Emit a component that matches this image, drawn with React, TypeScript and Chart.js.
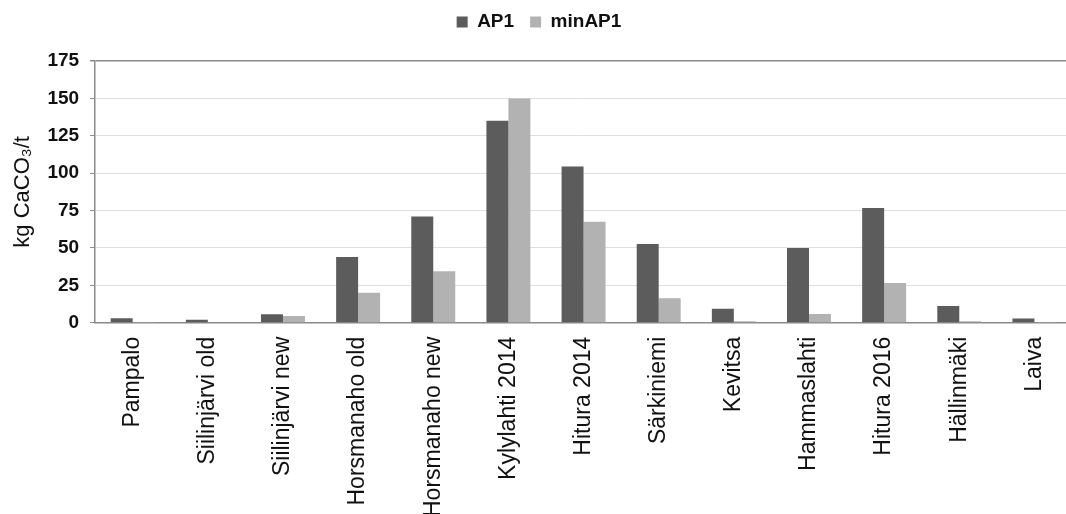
import React, { useEffect, useRef } from "react";
import { Chart, registerables } from "chart.js";

Chart.register(...registerables);

const categories = [
  "Pampalo",
  "Siilinjärvi old",
  "Siilinjärvi new",
  "Horsmanaho old",
  "Horsmanaho new",
  "Kylylahti 2014",
  "Hitura 2014",
  "Särkiniemi",
  "Kevitsa",
  "Hammaslahti",
  "Hitura 2016",
  "Hällinmäki",
  "Laiva",
];

const ap1 = [3, 2, 5.6, 44, 71, 135, 104.5, 52.7, 9.4, 50, 76.7, 11.2, 2.9];
const minAp1 = [0.5, 0.3, 4.5, 20, 34.5, 150, 67.5, 16.4, 1, 5.8, 26.5, 1, 0.5];

const yTicks = [0, 25, 50, 75, 100, 125, 150, 175];

const FONT = "'Liberation Sans', Arial, sans-serif";

export default function App() {
  const ref = useRef<HTMLCanvasElement | null>(null);

  useEffect(() => {
    if (!ref.current) return;
    const legendMargin = {
      id: "legendMargin",
      beforeInit(chart: any) {
        const orig = chart.legend.fit;
        chart.legend.fit = function () {
          orig.bind(chart.legend)();
          this.height += 19.5;
        };
      },
    };
    const chart = new Chart(ref.current, {
      type: "bar",
      data: {
        labels: categories,
        datasets: [
          {
            label: "AP1",
            data: ap1,
            backgroundColor: "#5c5c5c",
            categoryPercentage: 0.585,
            barPercentage: 1,
          },
          {
            label: "minAP1",
            data: minAp1,
            backgroundColor: "#b2b2b2",
            categoryPercentage: 0.585,
            barPercentage: 1,
          },
        ],
      },
      options: {
        responsive: false,
        animation: false,
        layout: { padding: { left: 6, right: 8, top: 6.5, bottom: 0 } },
        plugins: {
          legend: {
            position: "top",
            labels: {
              boxWidth: 11,
              boxHeight: 11,
              padding: 16,
              color: "#111",
              font: { family: FONT, size: 19, weight: "bold" },
            },
          },
          tooltip: { enabled: false },
        },
        scales: {
          x: {
            grid: { display: false, drawTicks: false },
            border: { display: true, color: "#8a8a8a", width: 1.5 },
            ticks: {
              maxRotation: 90,
              minRotation: 90,
              padding: 14,
              color: "#111",
              autoSkip: false,
              font: { family: FONT, size: 23 },
            },
          },
          y: {
            min: 0,
            max: 175,
            afterBuildTicks(scale: any) {
              scale.ticks = yTicks.map((v) => ({ value: v }));
            },
            grid: {
              color: (ctx: any) =>
                ctx.tick && ctx.tick.value === 175 ? "#8a8a8a" : "#dedede",
              lineWidth: (ctx: any) =>
                ctx.tick && ctx.tick.value === 175 ? 1.5 : 1,
              tickColor: "#8a8a8a",
              tickLength: 5,
            },
            border: { display: true, color: "#8a8a8a", width: 1.5 },
            ticks: {
              padding: 11,
              color: "#111",
              font: { family: FONT, size: 19, weight: "bold" },
            },
            title: {
              display: true,
              text: "kg CaCO₃/t",
              color: "#111",
              padding: { top: 4, bottom: 0 },
              font: { family: FONT, size: 22 },
            },
          },
        },
      },
      plugins: [legendMargin],
    });
    return () => chart.destroy();
  }, []);

  return (
    <div
      style={{
        position: "fixed",
        left: 0,
        top: -10,
        width: 1080,
        height: 541,
        background: "#fff",
      }}
    >
      <canvas ref={ref} width={1080} height={541} />
    </div>
  );
}
